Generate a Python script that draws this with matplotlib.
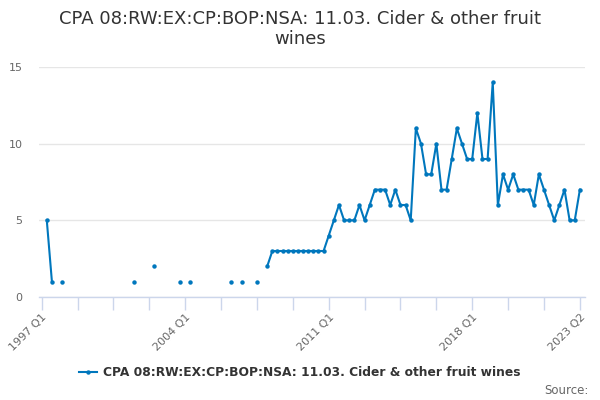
import numpy as np
import matplotlib
matplotlib.use("Agg")
import matplotlib.pyplot as plt

nan = np.nan
quarters = [f"{y} Q{q}" for y in range(1997, 2024) for q in range(1, 5)][:106]

values = [
    nan, 5, 1, nan, 1, nan, nan, nan, nan, nan,
    nan, nan, nan, nan, nan, nan, nan, nan, 1, nan,
    nan, nan, 2, nan, nan, nan, nan, 1, nan, 1,
    nan, nan, nan, nan, nan, nan, nan, 1, nan, 1,
    nan, nan, 1, nan, 2, 3, 3, 3, 3, 3,
    3, 3, 3, 3, 3, 3, 4, 5, 6, 5,
    5, 5, 6, 5, 6, 7, 7, 7, 6, 7,
    6, 6, 5, 11, 10, 8, 8, 10, 7, 7,
    9, 11, 10, 9, 9, 12, 9, 9, 14, 6,
    8, 7, 8, 7, 7, 7, 6, 8, 7, 6,
    5, 6, 7, 5, 5, 7,
]
tick_labels = ["1997 Q1", "2004 Q1", "2011 Q1", "2018 Q1", "2023 Q2"]
series_name = "CPA 08:RW:EX:CP:BOP:NSA: 11.03. Cider & other fruit wines"
title = "CPA 08:RW:EX:CP:BOP:NSA: 11.03. Cider & other fruit\nwines"

plt.rcParams['font.family'] = ['DejaVu Sans']

fig = plt.figure(figsize=(6, 4), dpi=100)
ax = fig.add_axes([39/600, 1-297/400, (585-39)/600, (297-67)/400])

x = np.arange(len(quarters))
ax.plot(x, values, color='#0077bd', lw=1.5, marker='o', markersize=3.2,
        markeredgewidth=0, label=series_name, zorder=3, clip_on=False)

ax.set_xlim(-0.52, 106.0)
ax.set_ylim(0, 15)
ax.set_yticks([0, 5, 10, 15])
ax.grid(axis='y', color='#e6e6e6', lw=1)
ax.set_axisbelow(True)
for s in ['top', 'right', 'left']:
    ax.spines[s].set_visible(False)
ax.spines['bottom'].set_color('#ccd6eb')
ax.spines['bottom'].set_linewidth(1)

ax.set_xticks(np.arange(0, 106, 7))
major_pos = [quarters.index(t) for t in tick_labels]
ax.set_xticklabels([quarters[i] if i in major_pos else "" for i in range(0, 106, 7)])
ax.tick_params(axis='x', length=9, color='#ccd6eb', width=1, labelsize=8, labelcolor='#666666', pad=2)
ax.tick_params(axis='y', length=0, labelsize=8, labelcolor='#666666', pad=12)
for lab in ax.get_xticklabels():
    lab.set_rotation(45)
    lab.set_ha('right')
    lab.set_rotation_mode('anchor')

fig.text(0.5, 1-29/400, title, ha='center', va='center', fontsize=13, color='#333333', linespacing=1.2)

leg = fig.legend(loc='center', bbox_to_anchor=(0.5, 1-373/400), frameon=False,
                 handlelength=1.5, handletextpad=0.5,
                 prop={'weight': 'bold', 'size': 8.8})
for t in leg.get_texts():
    t.set_color('#333333')

fig.text(589/600, 1-390/400, "Source:", ha='right', va='center', fontsize=8.5, color='#666666')

fig.savefig("out.png", dpi=100)
